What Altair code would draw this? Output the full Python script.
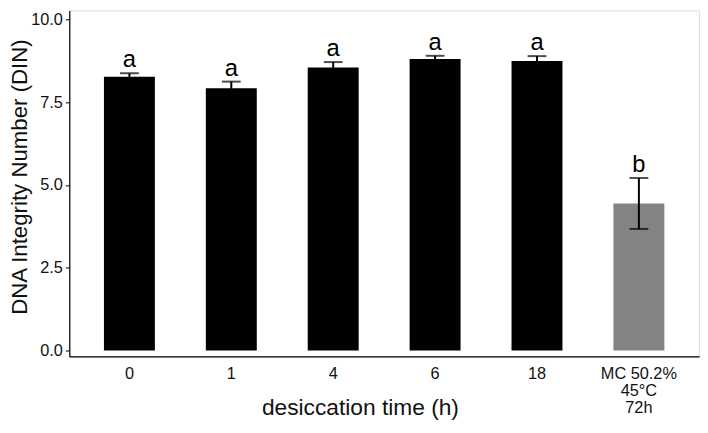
import altair as alt
import pandas as pd

groups = ["0", "1", "4", "6", "18", "MC 50.2%\n45°C\n72h"]
means = [8.27, 7.92, 8.55, 8.80, 8.74, 4.44]
errors = [0.10, 0.20, 0.16, 0.10, 0.15, 0.77]
letters = ["a", "a", "a", "a", "a", "b"]
fills = ["black", "black", "black", "black", "black", "gray"]

df = pd.DataFrame({
    "group": groups,
    "mean": means,
    "err": errors,
    "letter": letters,
    "fill": fills,
})
df["lo"] = df["mean"] - df["err"]
df["hi"] = df["mean"] + df["err"]

FONT = "Liberation Sans"

xenc = alt.X(
    "group:N",
    sort=groups,
    scale=alt.Scale(paddingInner=0.5, paddingOuter=0.34),
    axis=alt.Axis(
        title="desiccation time (h)",
        labelExpr="split(datum.label, '\\n')",
        labelAngle=0,
        labelFontSize=16.5,
        labelColor="#111111",
        labelFont=FONT,
        labelLineHeight=17.5,
        labelPadding=9,
        ticks=False,
        domainColor="black",
        domainWidth=1.2,
        titleFontSize=23,
        titleFont=FONT,
        titleFontWeight="normal",
        titleColor="#111111",
        titleX=294,
        titleY=52,
        titleBaseline="middle",
        titleAlign="center",
    ),
)

yscale = alt.Scale(domain=[-0.18, 10.27], nice=False, zero=False)

bars = alt.Chart(df).mark_bar().encode(
    x=xenc,
    y=alt.Y(
        "mean:Q",
        scale=yscale,
        axis=alt.Axis(
            title="DNA Integrity Number (DIN)",
            values=[0, 2.5, 5, 7.5, 10],
            format=".1f",
            grid=False,
            labelFontSize=16.5,
            labelColor="#111111",
            labelFont=FONT,
            labelPadding=3,
            tickSize=4,
            tickColor="black",
            domainColor="black",
            domainWidth=1.2,
            titleFontSize=22.5,
            titleFont=FONT,
            titleFontWeight="normal",
            titleColor="#111111",
            titleX=-50,
            titleY=168,
            titleAngle=-90,
            titleAlign="center",
            titleBaseline="middle",
        ),
    ),
    y2=alt.Y2(datum=0),
    color=alt.Color(
        "fill:N",
        scale=alt.Scale(domain=["black", "gray"], range=["#000000", "#838383"]),
        legend=None,
    ),
)

rules = alt.Chart(df).mark_rule(color="black", strokeWidth=2).encode(
    x=alt.X("group:N", sort=groups),
    y=alt.Y("lo:Q", scale=yscale),
    y2="hi:Q",
)

caps_hi = alt.Chart(df).mark_tick(color="black", size=19, thickness=2).encode(
    x=alt.X("group:N", sort=groups),
    y=alt.Y("hi:Q", scale=yscale),
)
caps_lo = alt.Chart(df).mark_tick(color="black", size=19, thickness=2).encode(
    x=alt.X("group:N", sort=groups),
    y=alt.Y("lo:Q", scale=yscale),
)

labels = alt.Chart(df).mark_text(
    fontSize=24, font=FONT, color="black", baseline="alphabetic", dy=-6
).encode(
    x=alt.X("group:N", sort=groups),
    y=alt.Y("hi:Q", scale=yscale),
    text="letter:N",
)

chart = (
    alt.layer(bars, rules, caps_hi, caps_lo, labels)
    .properties(
        width=637,
        height=350,
        autosize=alt.AutoSizeParams(type="none"),
        padding={"left": 62, "top": 0, "right": 1, "bottom": 75},
    )
    .configure_view(stroke="transparent", strokeWidth=0)
    .configure(background="white")
)

chart.save("out.html", embed_options={"renderer": "svg", "actions": False})
